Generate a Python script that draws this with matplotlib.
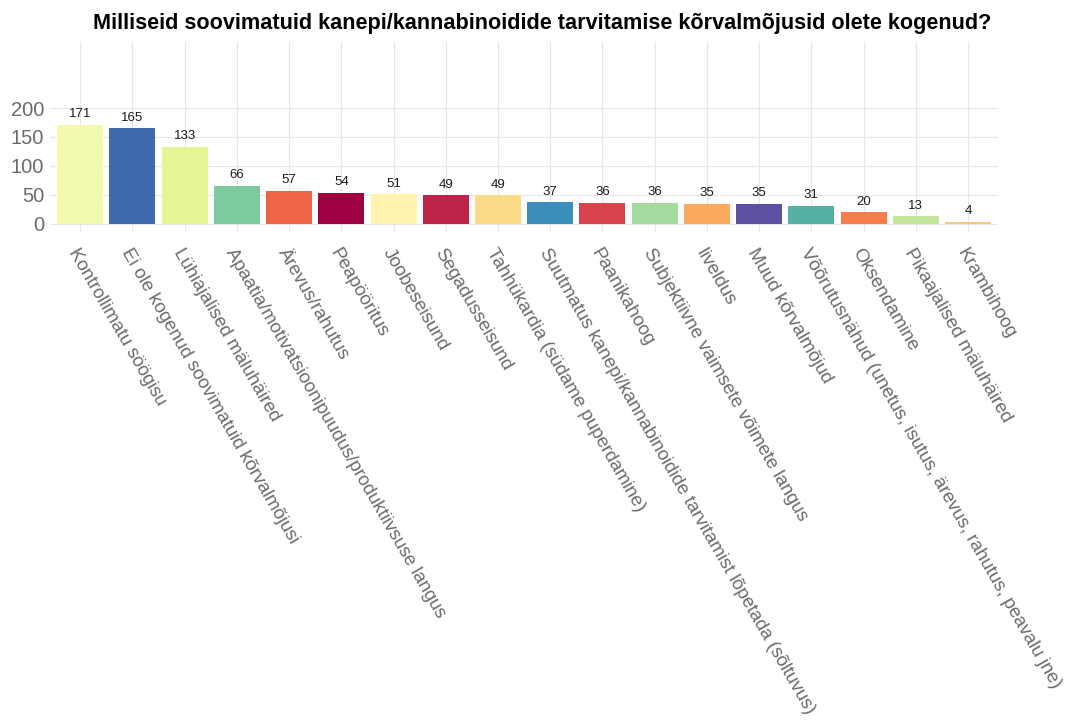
import matplotlib.pyplot as plt

plt.rcParams['font.family'] = ['Liberation Sans', 'DejaVu Sans']

title = 'Milliseid soovimatuid kanepi/kannabinoidide tarvitamise kõrvalmõjusid olete kogenud?'

categories = [
    'Kontrollimatu söögisu',
    'Ei ole kogenud soovimatuid kõrvalmõjusi',
    'Lühiajalised mäluhäired',
    'Apaatia/motivatsioonipuudus/produktiivsuse langus',
    'Ärevus/rahutus',
    'Peapööritus',
    'Joobeseisund',
    'Segadusseisund',
    'Tahhükardia (südame puperdamine)',
    'Suutmatus kanepi/kannabinoidide tarvitamist lõpetada (sõltuvus)',
    'Paanikahoog',
    'Subjektiivne vaimsete võimete langus',
    'Iiveldus',
    'Muud kõrvalmõjud',
    'Võõrutusnähud (unetus, isutus, ärevus, rahutus, peavalu jne)',
    'Oksendamine',
    'Pikaajalised mäluhäired',
    'Krambihoog',
]
counts = [171, 165, 133, 66, 57, 54, 51, 49, 49, 37, 36, 36, 35, 35, 31, 20, 13, 4]
colors = [
    '#F3FAAD', '#4169AD', '#E3F594', '#7ECAA0', '#EE6446', '#9E0142',
    '#FEF4AF', '#BE2249', '#FDDC88', '#3A8FBA', '#D8434E', '#A3DA9E',
    '#FBA95E', '#5E4FA2', '#55B1A5', '#F67E4A', '#C3E69A', '#FDC777',
]
yticks = [0, 50, 100, 150, 200]

fig = plt.figure(figsize=(10.84, 7.24), dpi=100)
ax = fig.add_axes([0.046, 0.6796, 0.875, 0.2624])

x = list(range(len(categories)))
bars = ax.bar(x, counts, width=0.88, color=colors, zorder=2)

# value labels above each bar
for xi, v in zip(x, counts):
    ax.text(xi, v + 8, str(v), ha='center', va='bottom', fontsize=9.5, color='#1a1a1a')

ax.set_xlim(-0.58, len(categories) - 0.42)
ax.set_ylim(-14, 314)
ax.set_yticks(yticks)
ax.set_xticks(x)
ax.set_xticklabels(categories, rotation=-60, ha='left', va='top',
                   rotation_mode='anchor', fontsize=13.5, color='#6b6b6b')
ax.tick_params(axis='y', labelsize=14.5, labelcolor='#6b6b6b', length=0, pad=4)
ax.tick_params(axis='x', length=0, pad=10)

ax.grid(True, color='#e6e6e6', linewidth=0.8, zorder=0)
ax.set_axisbelow(True)
for s in ax.spines.values():
    s.set_visible(False)

fig.text(0.5, 0.968, title, ha='center', va='center', fontsize=15.6,
         fontweight='bold', color='black')

fig.savefig('out.png', dpi=100)
